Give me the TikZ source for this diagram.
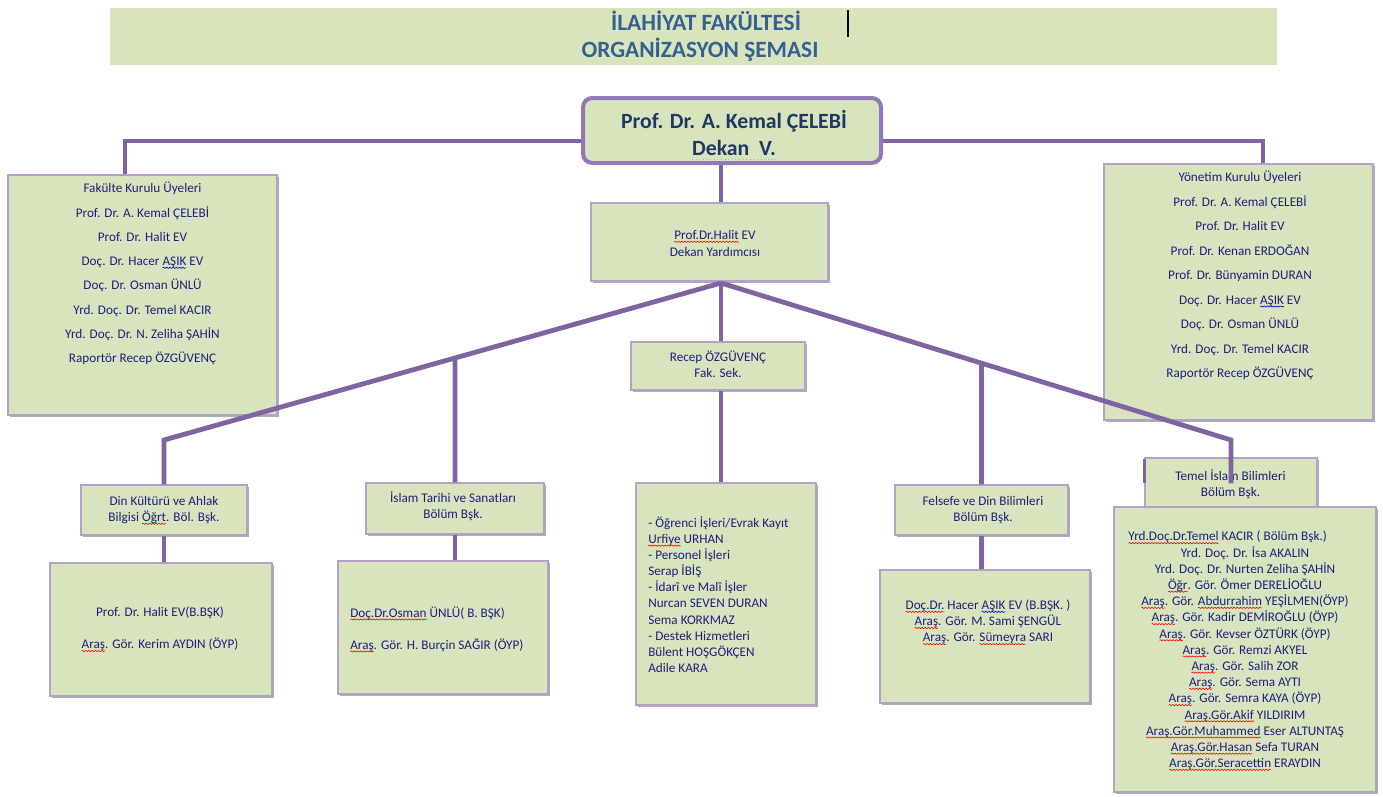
\documentclass[tikz,border=0pt]{standalone}
\usepackage{fontspec}
\setmainfont{Carlito}
\usetikzlibrary{shadows,decorations.pathmorphing,calc}
\definecolor{boxfill}{RGB}{215,228,189}
\definecolor{titlefill}{RGB}{216,228,188}
\definecolor{linepurple}{RGB}{128,100,162}
\definecolor{dekborder}{RGB}{146,120,185}
\definecolor{bord}{RGB}{178,162,199}
\definecolor{navytxt}{RGB}{32,32,122}
\definecolor{dektxt}{RGB}{31,56,100}
\definecolor{titletxt}{RGB}{54,96,146}
\newcommand\wv[2][red]{\tikz[baseline=(W.base)]{\node[inner sep=0pt,outer sep=0pt,anchor=base,draw=none,fill=none](W){#2};\draw[overlay,#1,line width=0.45pt,decorate,decoration={snake,amplitude=0.45pt,segment length=2.4pt}]([yshift=-1.7pt]W.base west)--([yshift=-1.7pt]W.base east);}}
\newcommand\bw[1]{\wv[blue!80!black]{#1}}
\newcommand\dw[1]{\tikz[baseline=(W.base)]{\node[inner sep=0pt,outer sep=0pt,anchor=base,draw=none,fill=none](W){#1};\draw[overlay,gray!60,line width=0.7pt,dotted]([yshift=-2.6pt]W.base west)--([yshift=-2.6pt]W.base east);}}
\begin{document}
\begin{tikzpicture}[x=0.75pt,y=-0.75pt,
  box/.style={draw=bord,line width=1.1pt,fill=boxfill,inner sep=0pt,
    drop shadow={shadow xshift=1.6pt,shadow yshift=-1.6pt,fill=black!45,opacity=0.7}},
  txt/.style={text=navytxt,font=\fontsize{9.9}{12.1}\selectfont,align=center,inner sep=0pt},
  titletext/.style={text=titletxt,font=\fontsize{17.5}{21}\selectfont\bfseries,inner sep=0pt},
  connline/.style={draw=linepurple,line width=3.6pt}]
\useasboundingbox[fill=white] (0,0) rectangle (1383,796);
% title band
\node[fill=titlefill,minimum width=875.25pt,minimum height=42.75pt,inner sep=0pt] (band) at (693.5,36.5) {};
\node[titletext] (title1) at (706,21) {İLAHİYAT FAKÜLTESİ};
\node[titletext] (title2) at (700,50) {ORGANİZASYON ŞEMASI};
\draw[black,line width=1.1pt] (848,10) -- (848,37);
% boxes
\node[draw=dekborder,line width=3pt,fill=boxfill,rounded corners=7pt,minimum width=223.5pt,minimum height=48.75pt,inner sep=0pt] (dek) at (732,130.5) {};
\node[box,minimum width=201.75pt,minimum height=180pt] (fk) at (142.5,295) {};
\node[box,minimum width=201.75pt,minimum height=192pt] (yk) at (1238.5,292) {};
\node[box,minimum width=177.75pt,minimum height=58.5pt] (dy) at (709.5,242) {};
\node[box,minimum width=130.5pt,minimum height=36pt] (fs) at (718,366) {};
\node[box,minimum width=124.5pt,minimum height=37.5pt] (din) at (164,510) {};
\node[box,minimum width=166.5pt,minimum height=99.75pt] (dinl) at (161,629.5) {};
\node[box,minimum width=133.5pt,minimum height=38.25pt] (isl) at (455,508.5) {};
\node[box,minimum width=157.5pt,minimum height=99.75pt] (isll) at (443,627.5) {};
\node[box,minimum width=135pt,minimum height=166.5pt] (cl) at (726,594) {};
\node[box,minimum width=129.75pt,minimum height=37.5pt] (fel) at (981.5,510) {};
\node[box,minimum width=157.5pt,minimum height=99.75pt] (fell) at (985,636.5) {};
\node[box,minimum width=129pt,minimum height=37.5pt] (tem) at (1231,483) {};
\node[box,minimum width=196.5pt,minimum height=213.75pt] (teml) at (1245,649.5) {};
% texts
\node[text=dektxt,font=\fontsize{16.3}{20.5}\selectfont\bfseries,align=center,inner sep=0pt] (dekt) at (734,133) {Prof. Dr. A. Kemal ÇELEBİ\\\dw{Dekan~ V.}};
\node[txt,font=\fontsize{9.9}{18.2}\selectfont] (fkt) at (142.5,273.5) {Fakülte Kurulu Üyeleri\\Prof. Dr. A. Kemal ÇELEBİ\\Prof. Dr. Halit EV\\Doç. Dr. Hacer \bw{AŞIK} EV\\Doç. Dr. Osman ÜNLÜ\\Yrd. Doç. Dr. Temel KACIR\\Yrd. Doç. Dr. N. Zeliha ŞAHİN\\Raportör Recep ÖZGÜVENÇ};
\node[txt,font=\fontsize{9.9}{18.4}\selectfont] (ykt) at (1240,275.5) {Yönetim Kurulu Üyeleri\\Prof. Dr. A. Kemal ÇELEBİ\\Prof. Dr. Halit EV\\Prof. Dr. Kenan ERDOĞAN\\Prof. Dr. Bünyamin DURAN\\Doç. Dr. Hacer \bw{AŞIK} EV\\Doç. Dr. Osman ÜNLÜ\\Yrd. Doç. Dr. Temel KACIR\\Raportör Recep ÖZGÜVENÇ};
\node[txt,font=\fontsize{9.9}{12.75}\selectfont] (dyt) at (715,243.5) {\wv{Prof.Dr.Halit} EV\\Dekan Yardımcısı};
\node[txt] (fst) at (718,364) {Recep ÖZGÜVENÇ\\Fak. Sek.};
\node[txt] (dint) at (164,510) {Din Kültürü ve Ahlak\\Bilgisi \wv{Öğrt}. Böl. Bşk.};
\node[txt,font=\fontsize{9.9}{24}\selectfont] (dinlt) at (160,629) {Prof. Dr. Halit EV(B.BŞK)\\\wv{Araş}. Gör. Kerim AYDIN (ÖYP)};
\node[txt] (islt) at (453,506) {İslam Tarihi ve Sanatları\\Bölüm Bşk.};
\node[txt,font=\fontsize{9.9}{24}\selectfont,align=left,anchor=west] (isllt) at (350,629) {\wv{Doç.Dr.Osman} ÜNLÜ( B. BŞK)\\\wv{Araş}. Gör. H. Burçin SAĞIR (ÖYP)};
\node[txt,align=left,anchor=west] (clt) at (648,594.5) {- Öğrenci İşleri/Evrak Kayıt\\\wv{Urfiye} URHAN\\- Personel İşleri\\Serap İBİŞ\\- İdarî ve Malî İşler\\Nurcan SEVEN DURAN\\Sema KORKMAZ\\- Destek Hizmetleri\\Bülent HOŞGÖKÇEN\\Adile KARA};
\node[txt] (felt) at (983,510) {Felsefe ve Din Bilimleri\\Bölüm Bşk.};
\node[txt] (fellt) at (988,622) {\wv{Doç.Dr.} Hacer \bw{AŞIK} EV (B.BŞK. )\\\wv{Araş}. Gör. M. Sami ŞENGÜL\\\wv{Araş}. Gör. \wv{Sümeyra} SARI};
\node[txt] (temt) at (1230.5,484) {Temel İslam Bilimleri\\Bölüm Bşk.};
\node[txt,font=\fontsize{9.9}{12.15}\selectfont] (temlt) at (1245,650.5) {\wv{Yrd.Doç.Dr.Temel} KACIR ( Bölüm Bşk.)\hspace*{26pt}\\Yrd. Doç. Dr. İsa AKALIN\\Yrd. Doç. Dr. Nurten Zeliha ŞAHİN\\\wv{Öğr}. Gör. Ömer DERELİOĞLU\\\wv{Araş}. Gör. \wv{Abdurrahim} YEŞİLMEN(ÖYP)\\\wv{Araş}. Gör. Kadir DEMİROĞLU (ÖYP)\\\wv{Araş}. Gör. Kevser ÖZTÜRK (ÖYP)\\\wv{Araş}. Gör. Remzi AKYEL\\\wv{Araş}. Gör. Salih ZOR\\\wv{Araş}. Gör. Sema AYTI\\\wv{Araş}. Gör. Semra KAYA (ÖYP)\\\wv{Araş.Gör.Akif} YILDIRIM\\\wv{Araş.Gör.Muhammed} Eser ALTUNTAŞ\\\wv{Araş.Gör.Hasan} Sefa TURAN\\\wv{Araş.Gör.Seracettin} ERAYDIN};
% connectors
\coordinate (hub) at (721,283);
\coordinate (lc) at (din.north |- 0,440);
\coordinate (rc) at (tem.north |- 0,440);
\draw[connline] ([yshift=-7.9pt]dek.west) -| ([xshift=-13.1pt]fk.north);
\draw[connline] ([yshift=-7.9pt]dek.east) -| ([xshift=18.4pt]yk.north);
\draw[connline] (dek.south -| hub) -- (dy.north -| hub);
\draw[connline] (dy.south -| hub) -- (fs.north -| hub);
\draw[connline] (fs.south -| hub) -- (cl.north -| hub);
\draw[connline] (hub) -- (lc) -- (din.north);
\draw[connline] (hub) -- (rc) -- ([yshift=-19.5pt]tem.north);
\draw[connline] (intersection of hub--lc and isl.north--isl.south) -- (isl.north);
\draw[connline] (intersection of hub--rc and fel.north--fel.south) -- (fel.north);
\draw[connline] (din.south) -- (din.south |- dinl.north);
\draw[connline] (isl.south) -- (isl.south |- isll.north);
\draw[connline] (fel.south) -- (fel.south |- fell.north);
\draw[linepurple,line width=2.5pt] ([shift={(0.5,2)}]tem.north west) -- ([shift={(0.5,26)}]tem.north west);
\end{tikzpicture}
\end{document}
